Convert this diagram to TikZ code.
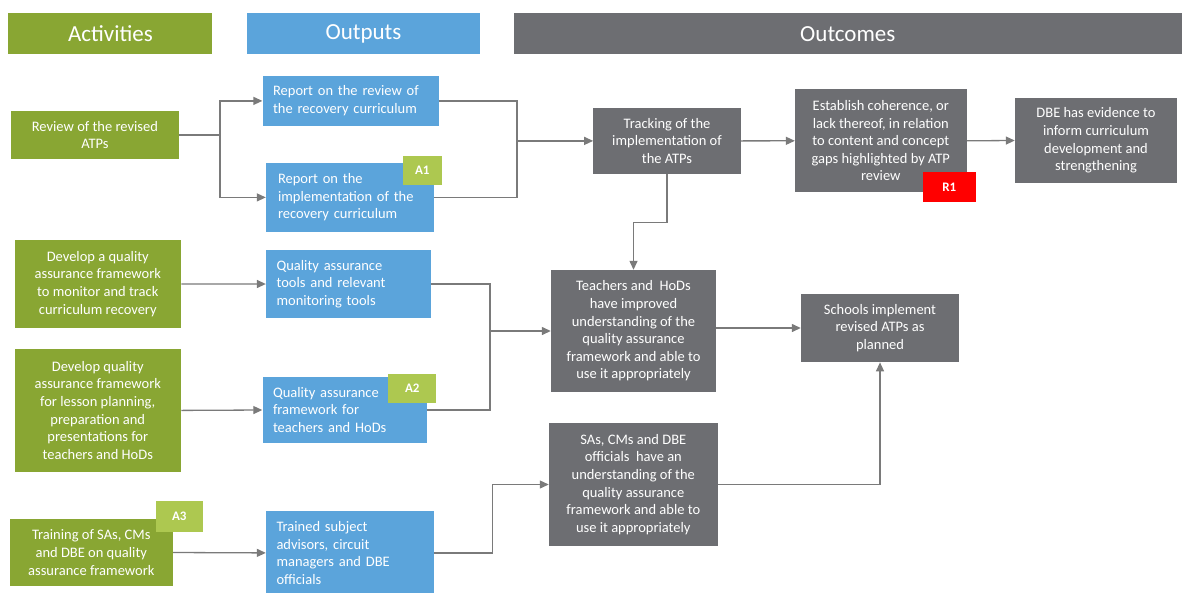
\documentclass[tikz,border=0pt]{standalone}
\usepackage{fontspec}
\setmainfont{Carlito}
\usetikzlibrary{arrows.meta}

\definecolor{actgreen}{RGB}{137,166,51}
\definecolor{outblue}{RGB}{91,164,219}
\definecolor{outgray}{RGB}{109,110,114}
\definecolor{taggreen}{RGB}{173,200,80}
\definecolor{tagred}{RGB}{255,0,0}
\definecolor{linegray}{RGB}{122,122,122}

\begin{document}
\begin{tikzpicture}[x=1pt,y=-1pt,
  box/.style={draw=none, text=white, inner xsep=10.5pt, inner ysep=0pt,
    font=\fontsize{14.5}{17.6}\selectfont, align=center},
  act/.style={box, fill=actgreen},
  outp/.style={box, fill=outblue, align=left},
  outc/.style={box, fill=outgray},
  head/.style={text=white, inner sep=0pt, font=\fontsize{23}{26}\selectfont},
  tag/.style={text=white, inner sep=0pt, font=\bfseries\fontsize{13}{15}\selectfont},
  conn/.style={draw=linegray, line width=1.3pt},
  arr/.style={conn, -{Triangle[length=9pt,width=8pt]}}
]
\useasboundingbox (0,0) rectangle (1182,592);

% column headers
\node[head, fill=actgreen, minimum width=204pt, minimum height=40.7pt] (hact) at (110.4,33.7) {Activities};
\node[head, fill=outblue, minimum width=233pt, minimum height=40.7pt] (hout) at (363.5,33.7) {Outputs};
\node[head, fill=outgray, minimum width=668.4pt, minimum height=40.7pt] (hres) at (847.8,33.7) {Outcomes};

% activities
\node[act, minimum width=168.3pt, minimum height=48pt] (rev) at (94.9,135) {Review of the revised\\ATPs};
\node[act, minimum width=166.5pt, minimum height=87.7pt] (dev1) at (97.8,283.9) {Develop a quality\\assurance framework\\to monitor and track\\curriculum recovery};
\node[act, minimum width=166.5pt, minimum height=122.7pt] (dev2) at (97.8,410.4) {Develop quality\\assurance framework\\for lesson planning,\\preparation and\\presentations for\\teachers and HoDs};
\node[act, minimum width=163.4pt, minimum height=66.4pt] (train) at (91.3,552.5) {Training of SAs, CMs\\and DBE on quality\\assurance framework};

% outputs
\node[outp, minimum width=176.5pt, minimum height=49.7pt, text width=155.5pt] (rep1) at (350.8,100.9) {Report on the review of\\the recovery curriculum};
\node[outp, minimum width=168pt, minimum height=68.7pt, text width=144pt, inner xsep=12pt] (rep2) at (350,197.4) {Report on the\\implementation of the\\recovery curriculum};
\node[outp, minimum width=164.5pt, minimum height=68pt, text width=143.5pt] (qat) at (348.3,284) {Quality assurance\\tools and relevant\\monitoring tools};
\node[outp, minimum width=164.2pt, minimum height=66pt, text width=143.2pt] (qaf) at (344.6,410) {Quality assurance\\framework for\\teachers and HoDs};
\node[outp, minimum width=168pt, minimum height=84.3pt, text width=147pt] (trained) at (350,552.9) {Trained subject\\advisors, circuit\\managers and DBE\\officials};

% outcomes
\node[outc, minimum width=147.3pt, minimum height=66.3pt] (track) at (667,140.9) {Tracking of the\\implementation of\\the ATPs};
\node[outc, minimum width=171.5pt, minimum height=103pt] (est) at (880.8,140.8) {Establish coherence, or\\lack thereof, in relation\\to content and concept\\gaps highlighted by ATP\\review};
\node[outc, minimum width=162pt, minimum height=85pt] (dbe) at (1096,140.5) {DBE has evidence to\\inform curriculum\\development and\\strengthening};
\node[outc, minimum width=165pt, minimum height=122pt] (teach) at (633.5,331) {Teachers and\ \ HoDs\\have improved\\understanding of the\\quality assurance\\framework and able to\\use it appropriately};
\node[outc, minimum width=158pt, minimum height=68.3pt] (sch) at (880,328) {Schools implement\\revised ATPs as\\planned};
\node[outc, minimum width=168.7pt, minimum height=122.4pt] (sas) at (633.3,484.5) {SAs, CMs and DBE\\officials\ \ have an\\understanding of the\\quality assurance\\framework and able to\\use it appropriately};

% reference tags
\node[tag, fill=taggreen, minimum width=39.4pt, minimum height=29.6pt] (ta1) at (422.3,170.5) {A1};
\node[tag, fill=taggreen, minimum width=47.9pt, minimum height=29pt] (ta2) at (412.3,388.5) {A2};
\node[tag, fill=taggreen, minimum width=47.5pt, minimum height=31.3pt] (ta3) at (179.3,516.7) {A3};
\node[tag, fill=tagred, minimum width=53.5pt, minimum height=29.7pt] (tr1) at (949.3,186.8) {R1};

% junction columns
\coordinate (s1) at (220,0);
\coordinate (j1) at (517,0);
\coordinate (j2) at (490,0);
\coordinate (j3) at (492.3,0);

% review branch
\draw[conn] (rev.east) -- (rev.east -| s1);
\draw[arr] (rev.east -| s1) |- (rep1.west);
\draw[arr] (rev.east -| s1) |- (rep2.west);
\draw[conn] (rep1.east) -| (track.west -| j1);
\draw[conn] (rep2.east) -| (track.west -| j1);
\draw[arr] (track.west -| j1) -- (track.west);
\draw[arr] (track.east) -- (est.west);
\draw[arr] (est.east) -- (dbe.west);
\draw[arr] (track.south) -- ++(0,48) -| (teach.north);

% quality assurance branch
\draw[arr] (dev1.east) -- (qat.west);
\draw[arr] (dev2.east) -- (qaf.west);
\draw[conn] (qat.east) -| (teach.west -| j2);
\draw[conn] (qaf.east) -| (teach.west -| j2);
\draw[arr] (teach.west -| j2) -- (teach.west);
\draw[arr] (sch.west -| teach.east) -- (sch.west);

% training branch
\draw[arr] (train.east) -- (trained.west);
\draw[arr] (trained.east) -| (sas.west -| j3) -- (sas.west);
\draw[arr] (sas.east) -| (sch.south);
\end{tikzpicture}
\end{document}
